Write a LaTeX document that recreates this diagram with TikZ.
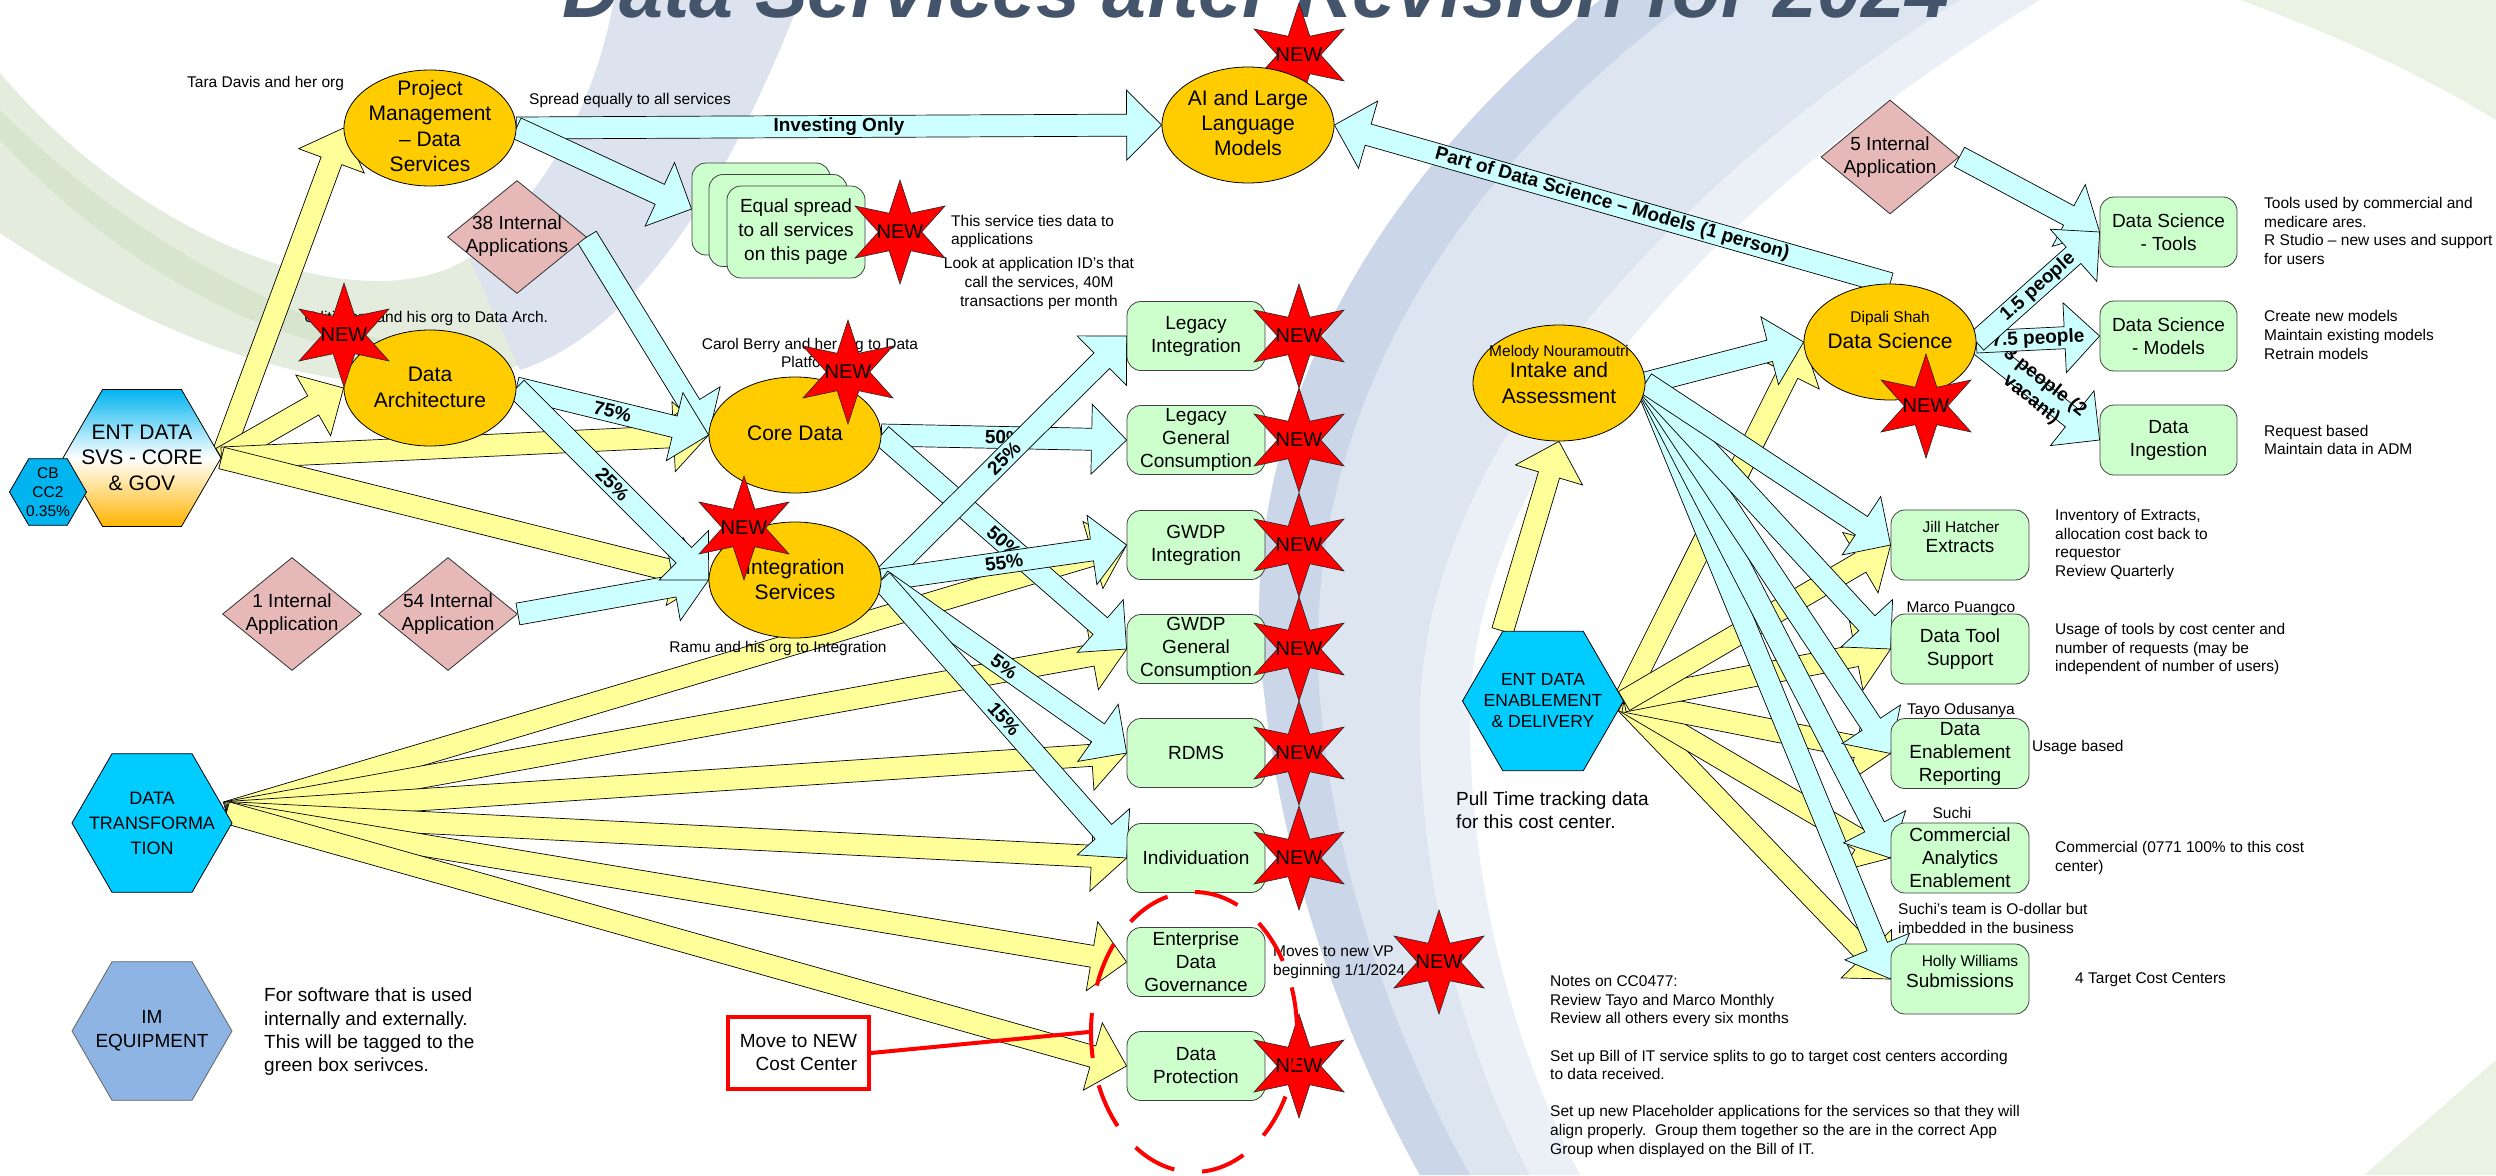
\documentclass[tikz,border=0pt]{standalone}
\usepackage{fontspec}
\setmainfont{Liberation Sans}
\usetikzlibrary{shapes.geometric,calc}
\pgfdeclarelayer{bgl}
\pgfdeclarelayer{arl}
\pgfsetlayers{bgl,arl,main}

\definecolor{ellF}{HTML}{FFCC00}
\definecolor{yelA}{HTML}{FFFF99}
\definecolor{cyA}{HTML}{CCFFFF}
\definecolor{grB}{HTML}{CCFFCC}
\definecolor{pkD}{HTML}{E6B9B8}
\definecolor{hxC}{HTML}{00CCFF}
\definecolor{hxT}{HTML}{00B4F0}
\definecolor{hxO}{HTML}{FFB400}
\definecolor{imC}{HTML}{8DB4E2}
\definecolor{ttl}{HTML}{44546A}
\definecolor{bgBand}{HTML}{DDE5F0}
\definecolor{bgBandD}{HTML}{CBD6E9}
\definecolor{bgBandL}{HTML}{EBF0F6}
\definecolor{bgGreen}{HTML}{E3ECDD}
\definecolor{bgGreenD}{HTML}{D7E5CF}
\definecolor{bgArm}{HTML}{DCE3EE}
\definecolor{bgGreenL}{HTML}{EAF2E4}

\newcommand\fsE{\fontsize{21}{25.3}\selectfont}
\newcommand\fsB{\fontsize{19}{23}\selectfont}
\newcommand\fsS{\fontsize{15.5}{18.6}\selectfont}
\newcommand\fsM{\fontsize{19}{23.3}\selectfont}
\newcommand\fsL{\fontsize{19}{22}\selectfont\bfseries}
\newcommand\fsN{\fontsize{20}{22}\selectfont}

\newcommand\blockarr[3]{%
  \draw[#1] let \p1=#2, \p2=#3,
    \n1={atan2(\y2-\y1,\x2-\x1)},
    \n2={veclen(\x2-\x1,\y2-\y1)-35pt} in
    ($(\p1)+(\n1+90:11pt)$) --
    ($(\p1)+(\n1:\n2)+(\n1+90:11pt)$) --
    ($(\p1)+(\n1:\n2)+(\n1+90:35pt)$) --
    (\p2) --
    ($(\p1)+(\n1:\n2)+(\n1-90:35pt)$) --
    ($(\p1)+(\n1:\n2)+(\n1-90:11pt)$) --
    ($(\p1)+(\n1-90:11pt)$) -- cycle;}

\newcommand\newstar[2]{%
  \node[nstar] (#1) at (#2) {};
  \node[ntext] (#1-t) at (#1) {NEW};}

\tikzset{
 ell/.style={ellipse, draw=black, line width=0.8pt, fill=ellF, minimum width=172pt, minimum height=116pt, inner sep=0pt},
 dia/.style={diamond, draw=black!80, line width=0.8pt, fill=pkD, minimum width=139pt, minimum height=113pt, inner sep=0pt},
 hexa/.style={regular polygon, regular polygon sides=6, draw=black, line width=0.8pt, inner sep=0pt},
 gbox/.style={rectangle, rounded corners=14pt, draw=black!75, line width=0.8pt, fill=grB, minimum width=138pt, minimum height=69pt, inner sep=0pt, align=center, font=\fsB},
 nstar/.style={star, star points=6, star point ratio=2.4, draw=black!85, line width=0.6pt, fill=red, minimum size=104pt, inner sep=0pt},
 ntext/.style={font=\fsN, inner sep=0pt},
 yarr/.style={draw=black, line width=0.7pt, fill=yelA, line join=miter},
 carr/.style={draw=black, line width=0.7pt, fill=cyA, line join=miter},
 lbl/.style={font=\fsL, inner sep=0pt},
 ann/.style={font=\fsS, inner sep=0pt, align=left, anchor=west},
 ctext/.style={inner sep=0pt, align=center},
}

\begin{document}
\begin{tikzpicture}[x=1pt,y=-1pt]
\useasboundingbox (0,0) rectangle (2496,1175);

% ---------------- background
\begin{pgfonlayer}{bgl}
\fill[white] (0,0) rectangle (2496,1175);
% left swoosh
\fill[bgGreen]
  (0,73) .. controls (150,250) and (380,330) .. (480,250)
  .. controls (560,180) and (600,80) .. (614,0) -- (800,0)
  .. controls (720,200) and (600,385) .. (420,385)
  .. controls (250,385) and (100,300) .. (0,233) -- cycle;
\fill[bgGreenD]
  (0,140) .. controls (150,300) and (330,370) .. (440,350)
  .. controls (330,340) and (150,260) .. (0,110) -- cycle;
\fill[bgArm]
  (470,260) .. controls (560,180) and (600,80) .. (614,0) -- (800,0)
  .. controls (730,180) and (640,330) .. (520,370) -- cycle;
% right band
\fill[bgBand]
  (1600,0) .. controls (1350,200) and (1230,450) .. (1265,700)
  .. controls (1285,880) and (1350,1050) .. (1420,1175) -- (1530,1175)
  .. controls (1470,1060) and (1420,900) .. (1420,720)
  .. controls (1420,480) and (1620,220) .. (1960,0) -- cycle;
\fill[bgBandD]
  (1600,0) .. controls (1350,200) and (1230,450) .. (1265,700)
  .. controls (1285,880) and (1350,1050) .. (1420,1175) -- (1470,1175)
  .. controls (1400,1050) and (1335,880) .. (1320,700)
  .. controls (1300,450) and (1420,200) .. (1690,0) -- cycle;
\fill[bgBandL]
  (1960,0) .. controls (1620,220) and (1420,480) .. (1420,720)
  .. controls (1420,900) and (1470,1060) .. (1530,1175) -- (1580,1175)
  .. controls (1520,1060) and (1470,900) .. (1470,720)
  .. controls (1470,480) and (1680,220) .. (2040,0) -- cycle;
\fill[bgGreenL] (2240,0) .. controls (2350,40) and (2430,80) .. (2496,120) -- (2496,0) -- cycle;
\fill[bgGreenL] (2364,1175) -- (2496,1060) -- (2496,1175) -- cycle;
\node[font=\fontsize{79}{80}\selectfont\bfseries\itshape, text=ttl, anchor=base, inner sep=0pt] (title) at (1256,17) {Data Services after Revision for 2024};
\newstar{sAI}{1299,55}
\end{pgfonlayer}

% ---------------- ellipses
\node[ell] (pm) at (430,128) {};
\node[ctext, font=\fsE] (pm-t) at (430,126) {Project\\Management\\-- Data\\Services};
\node[ell] (ai) at (1248,125) {};
\node[ctext, font=\fsE] (ai-t) at (1248,123) {AI and Large\\Language\\Models};
\node[ell] (da) at (430,388) {};
\node[ctext, font=\fsE] (da-t) at (430,387.5) {Data\\Architecture};
\node[ell] (core) at (795,435) {};
\node[ctext, font=\fsE] (core-t) at (795,433) {Core Data};
\node[ell] (intg) at (795,580) {};
\node[ctext, font=\fsE] (intg-t) at (795,579.5) {Integration\\Services};
\node[ell] (intake) at (1559,383) {};
\node[ctext, font=\fsS] (intake-n) at (1559,352) {Melody Nouramoutri};
\node[ctext, font=\fontsize{21}{26}\selectfont] (intake-t) at (1559,383) {Intake and\\Assessment};
\node[ell] (ds) at (1890,342) {};
\node[ctext, font=\fsS] (ds-n) at (1890,318) {Dipali Shah};
\node[ctext, font=\fsE] (ds-t) at (1890,341) {Data Science};

% ---------------- diamonds
\node[dia] (app38) at (517,237) {};
\node[ctext, font=\fsB] (app38-t) at (517,236.5) {38 Internal\\Applications};
\node[dia] (app1) at (292,614) {};
\node[ctext, font=\fsB] (app1-t) at (292,614.5) {1 Internal\\Application};
\node[dia] (app54) at (448,614) {};
\node[ctext, font=\fsB] (app54-t) at (448,614.5) {54 Internal\\Application};
\node[dia, minimum width=138pt, minimum height=114pt] (app5) at (1890,157) {};
\node[ctext, font=\fsB] (app5-t) at (1890,157) {5 Internal\\Application};

% ---------------- hexagons
\node[hexa, minimum size=158pt, top color=hxT, bottom color=hxO, middle color=white] (esvs) at (142,458) {};
\node[ctext, font=\fontsize{21}{25.5}\selectfont] (esvs-t) at (142,457.5) {ENT DATA\\SVS - CORE\\\& GOV};
\node[hexa, minimum size=77pt, fill=hxT] (cb) at (48,492) {};
\node[ctext, font=\fontsize{15.5}{19}\selectfont] (cb-t) at (48,492) {CB\\CC2\\0.35\%};
\node[hexa, minimum size=160pt, fill=hxC] (dt) at (152,823) {};
\node[ctext, font=\fontsize{18}{25}\selectfont] (dt-t) at (152,823) {DATA\\TRANSFORMA\\TION};
\node[hexa, minimum size=160pt, fill=imC, draw=black!60] (im) at (152,1031) {};
\node[ctext, font=\fontsize{19}{24}\selectfont] (im-t) at (152,1031) {IM\\EQUIPMENT};
\node[hexa, minimum size=161pt, fill=hxC] (ede) at (1543,701) {};
\node[ctext, font=\fontsize{17.5}{21}\selectfont] (ede-t) at (1543,701) {ENT DATA\\ENABLEMENT\\\& DELIVERY};

% ---------------- green boxes, middle column
\node[gbox] (li) at (1196,336) {Legacy\\Integration};
\node[gbox] (lgc) at (1196,440) {Legacy\\General\\Consumption};
\node[gbox] (gi) at (1196,545) {GWDP\\Integration};
\node[gbox] (ggc) at (1196,649) {GWDP\\General\\Consumption};
\node[gbox] (rdms) at (1196,753) {RDMS};
\node[gbox] (ind) at (1196,858) {Individuation};
\node[gbox] (edg) at (1196,962) {Enterprise\\Data\\Governance};
\node[gbox] (dp) at (1196,1066) {Data\\Protection};

\node[gbox, minimum height=92pt] (eq3) at (761,209) {};
\node[gbox, minimum height=92pt] (eq2) at (778,220.5) {};
\node[gbox, minimum height=92pt, font=\fontsize{19}{24}\selectfont] (eq1) at (796,232) {Equal spread\\to all services\\on this page};

% ---------------- right boxes
\node[gbox, minimum width=137pt, minimum height=70pt] (dst) at (2168.5,232) {Data Science\\- Tools};
\node[gbox, minimum width=137pt, minimum height=70pt] (dsm) at (2168.5,336) {Data Science\\- Models};
\node[gbox, minimum width=137pt, minimum height=70pt] (ding) at (2168.5,440) {Data\\Ingestion};

\node[gbox, minimum height=70pt] (ext) at (1960,545) {};
\node[ctext, font=\fsS] (ext-n) at (1961,527) {Jill Hatcher};
\node[ctext, font=\fsB] (ext-t) at (1960,546) {Extracts};
\node[gbox, minimum height=70pt] (dts) at (1960,649) {Data Tool\\Support};
\node[gbox, minimum height=70pt] (der) at (1960,753.5) {Data\\Enablement\\Reporting};
\node[gbox, minimum height=70pt] (cae) at (1960,858) {Commercial\\Analytics\\Enablement};
\node[gbox, minimum height=70pt] (sub) at (1960,979) {};
\node[ctext, font=\fsS] (sub-n) at (1970,962) {Holly Williams};
\node[ctext, font=\fsB] (sub-t) at (1960,981) {Submissions};

% ---------------- arrows
\begin{pgfonlayer}{arl}
% yellow
\blockarr{yarr}{(esvs.east)}{(pm.west)}
\blockarr{yarr}{(esvs.east)}{(da.west)}
\blockarr{yarr}{(esvs.east)}{(core.west)}
\blockarr{yarr}{(esvs.east)}{(intg.west)}
\blockarr{yarr}{(dt.8)}{(gi.west)}
\blockarr{yarr}{(dt.8)}{(ggc.west)}
\blockarr{yarr}{(dt.8)}{(rdms.west)}
\blockarr{yarr}{(dt.8)}{(ind.west)}
\blockarr{yarr}{(dt.8)}{(edg.west)}
\blockarr{yarr}{(dt.8)}{(dp.west)}
\blockarr{yarr}{(ede.120)}{(intake.south)}
\blockarr{yarr}{(ede.east)}{(ds.west)}
\blockarr{yarr}{(ede.east)}{(sub.west)}
\blockarr{yarr}{(ede.east)}{(cae.west)}
\blockarr{yarr}{(ede.east)}{(der.west)}
\blockarr{yarr}{(ede.east)}{(dts.west)}
\blockarr{yarr}{(ede.east)}{(ext.west)}
% cyan
\blockarr{carr}{(pm.east)}{(ai.west)}
\path (pm.east) -- (ai.west) node[midway, sloped, lbl] (l-inv) {Investing Only};
\blockarr{carr}{(pm.east)}{(eq3.west)}
\blockarr{carr}{(app38.east)}{(core.west)}
\blockarr{carr}{(app54.east)}{(intg.west)}
\blockarr{carr}{(da.east)}{(core.west)}
\path (da.east) -- (core.west) node[midway, sloped, lbl] (l-75) {75\%};
\blockarr{carr}{(da.east)}{(intg.west)}
\path (da.east) -- (intg.west) node[midway, sloped, lbl] (l-25a) {25\%};
\blockarr{carr}{(core.east)}{(lgc.west)}
\path (core.east) -- (lgc.west) node[midway, sloped, lbl] (l-50a) {50\%};
\blockarr{carr}{(core.east)}{(ggc.west)}
\path (core.east) -- (ggc.west) node[midway, sloped, lbl] (l-50b) {50\%};
\blockarr{carr}{(intg.east)}{(li.west)}
\path (intg.east) -- (li.west) node[midway, sloped, lbl] (l-25b) {25\%};
\blockarr{carr}{(intg.east)}{(gi.west)}
\path (intg.east) -- (gi.west) node[midway, sloped, lbl] (l-55) {55\%};
\blockarr{carr}{(intg.east)}{(rdms.west)}
\path (intg.east) -- (rdms.west) node[midway, sloped, lbl] (l-5) {5\%};
\blockarr{carr}{(intg.east)}{(ind.west)}
\path (intg.east) -- (ind.west) node[midway, sloped, lbl] (l-15) {15\%};
% intake fan
\blockarr{carr}{(intake.east)}{(ds.west)}
\blockarr{carr}{(intake.east)}{(sub.west)}
\blockarr{carr}{(intake.east)}{(cae.west)}
\blockarr{carr}{(intake.east)}{(der.west)}
\blockarr{carr}{(intake.east)}{(dts.west)}
\blockarr{carr}{(intake.east)}{(ext.west)}
% data science
\blockarr{carr}{(ds.north)}{(ai.east)}
\path (ds.north) -- (ai.east) node[midway, sloped, lbl] (l-part) {Part of Data Science -- Models (1 person)};
\blockarr{carr}{(app5.east)}{(dst.west)}
\blockarr{carr}{(ds.east)}{(ding.west)}
\path (ds.east) -- (ding.west) node[midway, sloped, lbl, align=center] (l-3p) {3 people (2\\vacant)};
\blockarr{carr}{(ds.east)}{(dsm.west)}
\path (ds.east) -- (dsm.west) node[midway, sloped, lbl] (l-7p) {7.5 people};
\blockarr{carr}{(ds.east)}{(dst.west)}
\path (ds.east) -- (dst.west) node[midway, sloped, lbl] (l-1p) {1.5 people};
\end{pgfonlayer}

% ---------------- annotations
\node[ann] (tara) at (187,83) {Tara Davis and her org};
\node[ann] (spread) at (529,100) {Spread equally to all services};
\node[ann] (uditi) at (304,318) {Uditi Karn and his org to Data Arch.};
\node[ctext, font=\fsS] (carol) at (810,353) {Carol Berry and her org to Data\\Platform};
\node[ctext, font=\fsS] (ramu) at (778,648) {Ramu and his org to Integration};
\node[ann] (ties) at (951,231.5) {This service ties data to\\applications};
\node[ctext, font=\fsS] (look) at (1039,283.5) {Look at application ID’s that\\call the services, 40M\\transactions per month};
\node[ann] (vp) at (1273,962) {Moves to new VP\\beginning 1/1/2024};
\node[ann, font=\fsM] (sw) at (264,1032) {For software that is used\\internally and externally.\\This will be tagged to the\\green box serivces.};
\node[ann, font=\fsM] (pull) at (1456,810.5) {Pull Time tracking data\\for this cost center.};
\node[ann] (tools) at (2264,231) {Tools used by commercial and\\medicare ares.\\R Studio -- new uses and support\\for users};
\node[ann] (models) at (2264,335) {Create new models\\Maintain existing models\\Retrain models};
\node[ann] (req) at (2264,440) {Request based\\Maintain data in ADM};
\node[ann] (inv) at (2055,544.5) {Inventory of Extracts,\\allocation cost back to\\requestor\\Review Quarterly};
\node[ann] (usage) at (2055,649) {Usage of tools by cost center and\\number of requests (may be\\independent of number of users)};
\node[ann] (ub) at (2032,747) {Usage based};
\node[ann] (comm) at (2055,858) {Commercial (0771 100\% to this cost\\center)};
\node[ann] (suchi2) at (1898,918.5) {Suchi’s team is O-dollar but\\imbedded in the business};
\node[ann] (tcc) at (2075,980) {4 Target Cost Centers};
\node[ctext, font=\fsS] (marco) at (1961,609) {Marco Puangco};
\node[ctext, font=\fsS] (tayo) at (1961,710) {Tayo Odusanya};
\node[ctext, font=\fsS] (suchi) at (1952,813) {Suchi};
\node[ann] (notes) at (1550,1066.5) {Notes on CC0477:\\Review Tayo and Marco Monthly\\Review all others every six months\\[18.6pt]Set up Bill of IT service splits to go to target cost centers according\\to data received.\\[18.6pt]Set up new Placeholder applications for the services so that they will\\align properly.\ \ Group them together so the are in the correct App\\Group when displayed on the Bill of IT.};

% ---------------- stars
\newstar{sDA}{344,335}
\newstar{sCore}{848,372}
\newstar{sIntg}{744,528}
\newstar{sEq}{900,232}
\newstar{sLI}{1299,336}
\newstar{sLGC}{1299,440}
\newstar{sGI}{1299,545}
\newstar{sGGC}{1299,649}
\newstar{sRD}{1299,753}
\newstar{sInd}{1299,858}
\newstar{sDP}{1299,1066}
\newstar{sVP}{1439,962}
\newstar{sDS}{1926,406}

% ---------------- red markup
\node[ellipse, draw=red, line width=4pt, dash pattern=on 45pt off 28pt, minimum width=206pt, minimum height=280pt, inner sep=0pt] (cell) at (1194,1032) {};
\node[draw=red, line width=4pt, fill=white, minimum width=141pt, minimum height=72pt, align=right, font=\fsB, inner sep=4pt] (mv) at (798.5,1053) {Move to NEW\\Cost Center};
\draw[red, line width=4pt] (mv.east) -- (cell.west);
\end{tikzpicture}
\end{document}
